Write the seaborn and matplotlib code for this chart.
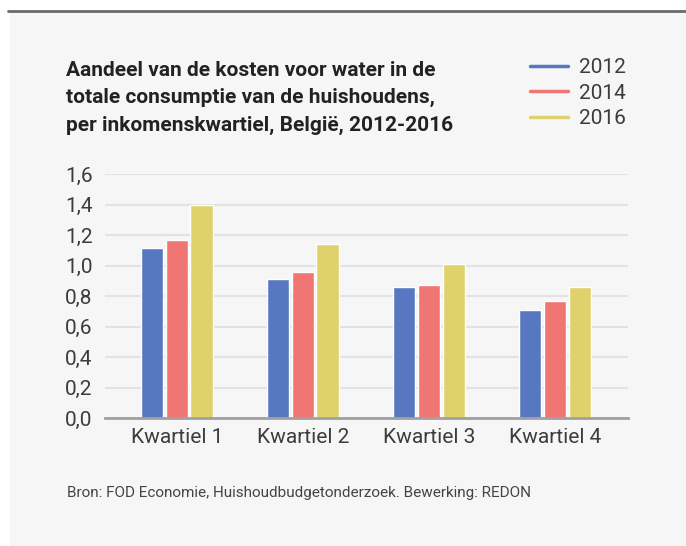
import pandas as pd
import seaborn as sns
import matplotlib.pyplot as plt
from matplotlib.lines import Line2D
from matplotlib.patches import Rectangle

kwartielen = ['Kwartiel 1', 'Kwartiel 2', 'Kwartiel 3', 'Kwartiel 4']
jaren = ['2012', '2014', '2016']
aandeel_2012 = [1.115, 0.91, 0.86, 0.71]
aandeel_2014 = [1.17, 0.96, 0.87, 0.77]
aandeel_2016 = [1.40, 1.14, 1.01, 0.86]
kleuren = ['#5778c0', '#ef7672', '#dfd26c']

df = pd.DataFrame({
    'kwartiel': kwartielen * 3,
    'jaar': [j for j in jaren for _ in kwartielen],
    'aandeel': aandeel_2012 + aandeel_2014 + aandeel_2016,
})

sns.set_style('white')
plt.rcParams['font.family'] = ['Roboto', 'DejaVu Sans']

fig = plt.figure(figsize=(6.86, 5.46), dpi=100)
fig.patch.set_facecolor('white')
# grey panel + dark top rule
fig.add_artist(Rectangle((10 / 686, 0), 1, (546 - 12) / 546, transform=fig.transFigure,
                         facecolor='#f6f6f6', edgecolor='none', zorder=0))
fig.add_artist(Line2D([8 / 686, 1], [1 - 11 / 546] * 2, transform=fig.transFigure,
                      color='#6a6a6a', lw=2, zorder=1))

ax = fig.add_axes([105 / 686, 1 - 418 / 546, 523 / 686, 244 / 546])
ax.set_facecolor('none')
sns.barplot(data=df, x='kwartiel', y='aandeel', hue='jaar', palette=kleuren,
            width=0.59, gap=0.1, saturation=1, legend=False, ax=ax)

ax.set_ylim(0, 1.6)
ax.set_xlim(-0.57, 3.58)
ticks = [i * 0.2 for i in range(9)]
ax.set_yticks(ticks)
ax.set_yticklabels([f'{t:.1f}'.replace('.', ',') for t in ticks])
ax.yaxis.grid(True, color='#e2e2e2', lw=1.5)
ax.set_axisbelow(True)
for s in ['top', 'right', 'left']:
    ax.spines[s].set_visible(False)
ax.spines['bottom'].set_color('#a0a0a0')
ax.spines['bottom'].set_linewidth(2)
ax.tick_params(axis='y', length=0, pad=9, labelsize=15, labelcolor='#3c3c3c')
ax.tick_params(axis='x', length=0, pad=7, labelsize=15, labelcolor='#3c3c3c')
ax.set_xlabel('')
ax.set_ylabel('')

fig.text(66 / 686, 1 - 61 / 546,
         'Aandeel van de kosten voor water in de\n'
         'totale consumptie van de huishoudens,\n'
         'per inkomenskwartiel, België, 2012-2016',
         fontsize=15, fontweight='bold', color='#222222', va='top', linespacing=1.55)

handles = [Line2D([], [], color=c, lw=2.5) for c in kleuren]
fig.legend(handles, jaren, loc='upper left', bbox_to_anchor=(530 / 686, 1 - 58 / 546),
           frameon=False, fontsize=15, labelcolor='#3c3c3c',
           handlelength=1.83, handletextpad=0.53, labelspacing=0.32,
           borderpad=0, borderaxespad=0)

fig.text(67 / 686, 1 - 493 / 546,
         'Bron: FOD Economie, Huishoudbudgetonderzoek. Bewerking: REDON',
         fontsize=11, color='#444444', va='center')

fig.savefig('out.png', dpi=100)
